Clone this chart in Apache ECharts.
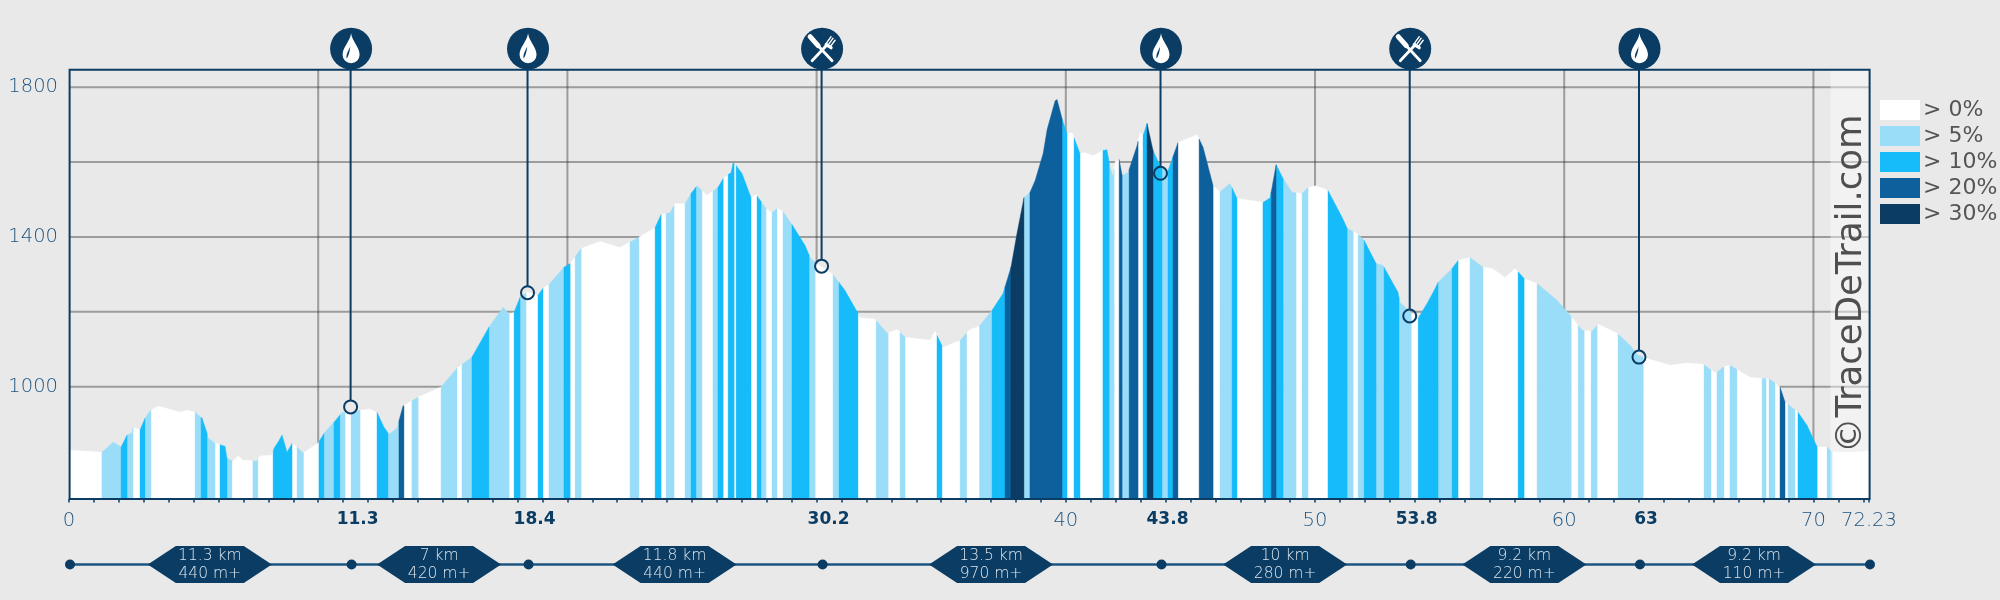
<!DOCTYPE html>
<html><head><meta charset="utf-8">
<style>html,body{margin:0;padding:0;background:#e9e9e9}#c{width:2000px;height:600px}</style>
<script src="https://cdn.jsdelivr.net/npm/echarts@6/dist/echarts.min.js"></script>
</head><body><div id="c"></div>
<script>
const totalKm = 72.23, minElev = 700, maxElev = 1846;
const profileKm = [0,1.28,1.52,1.73,2.05,2.29,2.49,2.53,2.81,3.01,3.21,3.53,4.01,4.41,4.70,5.02,5.30,5.50,5.54,5.82,6.22,6.30,6.54,6.74,6.94,7.50,7.62,8.11,8.19,8.35,8.51,8.71,8.91,9.11,9.35,9.95,10.23,10.63,10.92,11.28,11.64,12.04,12.32,12.60,12.80,13.12,13.36,13.97,14.89,15.53,16.13,16.81,17.38,17.62,17.82,18.06,18.34,18.78,18.98,19.22,19.82,20.07,20.51,21.27,22.07,22.83,23.48,23.72,24.08,24.28,24.68,24.92,25.16,25.56,26.00,26.21,26.41,26.53,26.61,26.73,26.97,27.33,27.53,27.93,28.17,28.37,28.61,28.97,29.50,29.70,29.90,30.62,31.10,31.62,31.66,32.31,32.79,33.19,33.51,34.51,34.71,34.79,35.03,35.72,36.00,36.12,36.48,37.00,37.44,37.76,38.00,38.28,38.52,38.73,39.05,39.21,39.53,39.61,39.81,40.01,40.21,40.53,40.73,41.05,41.45,41.61,41.74,41.86,41.94,42.10,42.22,42.46,42.82,42.94,43.06,43.22,43.46,43.78,44.06,44.42,44.46,45.23,45.47,45.87,46.15,46.55,46.83,47.47,47.87,48.16,48.40,48.68,49.04,49.44,49.68,50.00,50.48,51.05,51.25,51.65,51.93,52.41,52.69,53.29,53.37,53.85,54.10,54.46,54.70,54.90,55.46,55.70,56.18,56.70,57.07,57.59,57.99,58.35,58.87,59.67,60.20,60.68,61.08,61.32,62.08,62.60,62.92,63.40,64.21,64.89,65.53,66.05,66.33,66.61,67.42,68.22,68.62,68.82,68.94,69.34,69.70,70.11,70.51,70.71,71.55,72.23];
const profileElev = [831,825,839,852,839,871,876,892,884,916,935,948,940,932,937,932,916,876,863,849,841,809,801,815,804,801,815,817,836,852,871,825,849,839,823,849,879,908,932,927,937,940,932,892,873,889,948,972,999,1049,1079,1159,1212,1193,1199,1239,1252,1244,1263,1273,1319,1329,1369,1388,1372,1399,1425,1460,1465,1489,1489,1516,1537,1511,1532,1556,1567,1572,1599,1591,1569,1505,1513,1476,1465,1476,1468,1433,1377,1345,1332,1300,1257,1196,1185,1180,1143,1153,1132,1124,1148,1137,1105,1124,1145,1153,1161,1204,1249,1319,1409,1505,1519,1551,1623,1687,1764,1767,1716,1676,1679,1623,1625,1617,1631,1633,1585,1561,1601,1607,1564,1572,1644,1679,1671,1703,1631,1585,1577,1644,1652,1673,1639,1537,1521,1543,1503,1497,1492,1505,1593,1556,1519,1516,1532,1537,1524,1452,1423,1409,1391,1329,1324,1252,1225,1196,1183,1223,1252,1279,1316,1337,1345,1319,1316,1292,1316,1289,1276,1231,1191,1151,1148,1167,1143,1111,1084,1073,1057,1063,1060,1036,1052,1057,1025,1020,999,959,953,932,897,839,839,825,825,828];
const bandEnds = [1.28,2.05,2.29,2.53,2.81,3.01,3.25,5.02,5.26,5.50,5.82,6.02,6.30,6.50,7.34,7.54,8.15,8.91,9.11,9.37,9.99,10.19,10.59,10.83,11.04,11.28,11.64,12.32,12.76,13.20,13.40,13.72,13.97,14.89,15.53,15.73,16.13,16.81,17.62,17.82,18.06,18.30,18.78,18.98,19.22,19.82,20.07,20.27,20.51,22.47,22.83,23.48,23.72,23.92,24.24,24.68,24.92,25.12,25.36,25.80,26.00,26.21,26.41,26.65,26.73,27.33,27.57,27.73,27.93,28.17,28.37,28.61,28.97,29.66,29.90,30.62,30.86,31.62,32.35,32.83,33.31,33.51,34.79,34.99,35.72,35.98,36.50,37.00,37.52,37.76,38.28,38.52,39.81,40.01,40.29,40.53,41.45,41.70,41.90,42.10,42.22,42.50,42.86,43.06,43.22,43.46,43.82,44.06,44.26,44.46,45.31,45.87,46.15,46.63,46.83,47.87,48.20,48.40,48.68,49.20,49.44,49.68,50.48,51.25,51.49,51.69,51.93,52.41,52.73,53.33,53.82,54.10,54.90,55.46,55.70,56.18,56.70,58.11,58.35,58.87,60.24,60.52,60.76,61.04,61.28,62.12,63.13,65.57,65.85,66.09,66.37,66.61,66.89,67.90,68.06,68.18,68.42,68.62,68.82,68.94,69.22,69.34,70.11,70.51,70.71,72.23];
const bandClass = [0,1,2,1,0,2,1,0,1,2,1,0,2,1,0,1,0,2,0,1,0,2,1,2,1,0,1,0,2,1,3,0,1,0,1,0,1,2,1,0,2,1,0,2,0,1,2,0,1,0,1,0,2,0,1,0,1,2,1,0,1,2,0,2,0,2,0,2,1,0,1,0,1,2,1,0,1,2,0,1,0,1,0,2,0,1,0,1,2,3,4,1,3,2,0,2,0,2,1,0,3,1,3,0,2,4,2,1,2,3,0,3,0,1,2,0,2,3,2,1,0,1,0,2,1,0,1,2,1,2,1,0,2,1,2,0,1,0,2,0,1,0,1,0,1,0,1,0,1,0,1,0,1,0,1,0,1,0,3,0,1,0,2,0,1,0];
const classNames = ['> 0%','> 5%','> 10%','> 20%','> 30%'];
const classColors = ['#ffffff','#9addf9','#16bbfa','#0d609c','#0a3c64'];
const gridKm = [10,20,30,40,50,60,70];
const gridElev = [1000,1200,1400,1600,1800];
const elevLabels = [1000,1400,1800];
const distLabels = [0,11.3,18.4,30.2,40,43.8,50,53.8,60,63,70,72.23];
const boldLabels = [11.3,18.4,30.2,43.8,53.8,63];
const stopKm = [11.3,18.4,30.2,43.8,53.8,63];
const stopElev = [946,1251,1322,1570,1189,1079];
const stopKind = ['water','water','food','water','food','water'];
const legKm = [11.3,7,11.8,13.5,10,9.2,9.2];
const stripStops = [0,11.3,18.4,30.2,43.8,53.8,63,72.23];
const legs = ['11.3 km','7 km','11.8 km','13.5 km','10 km','9.2 km','9.2 km'];
const legGain = ['440 m+','420 m+','440 m+','970 m+','280 m+','220 m+','110 m+'];

const NAVY = '#0a3c64', LABEL = '#1f5580', BG = '#e9e9e9';
const KM_SHIFT = 0.04;
const pk = profileKm.map(k => Math.min(totalKm, k === 0 ? 0 : k + KM_SHIFT));
function elevAt(k){
  if (k <= pk[0]) return profileElev[0];
  for (let i = 1; i < pk.length; i++) {
    if (k <= pk[i]) {
      const t = (k - pk[i-1]) / (pk[i] - pk[i-1] || 1);
      return profileElev[i-1] + t * (profileElev[i] - profileElev[i-1]);
    }
  }
  return profileElev[profileElev.length-1];
}
const bandsAll = bandEnds.map((e,i) => ({
  a: i ? bandEnds[i-1] + KM_SHIFT : 0,
  b: i === bandEnds.length-1 ? totalKm : e + KM_SHIFT,
  c: bandClass[i]
}));
function renderBand(params, api){
  const a = api.value(0), b = api.value(1);
  const pts = [api.coord([a, minElev]), api.coord([a, elevAt(a)])];
  pk.forEach((k,i) => { if (k > a && k < b) pts.push(api.coord([k, profileElev[i]])); });
  pts.push(api.coord([b, elevAt(b)]), api.coord([b, minElev]));
  const col = api.visual('color');
  return {type:'polygon', shape:{points:pts}, style:{fill:col, stroke:col, lineWidth:0.4}};
}
const bandSeries = classNames.map((n,ci) => ({
  name:n, type:'custom', xAxisIndex:0, yAxisIndex:0, z:3, clip:false, silent:true,
  itemStyle:{color:classColors[ci]},
  encode:{x:[0,1]},
  renderItem:renderBand,
  data:bandsAll.filter(b=>b.c===ci).map(b=>[b.a,b.b])
}));
const DROP = 'M8.5 0C9.5 8 17 14 17 21.5A8.5 8.5 0 0 1 0 21.5C0 14 7.5 8 8.5 0Z';
const SLIT = 'M7.6 13C6.4 17 3.2 20 4 25.5C6 22.5 7.2 18 7.6 13Z';
function icon(kind, cx, cy){
  if (kind === 0) {
    return [
      {type:'path', shape:{pathData:DROP, x:cx-8.5, y:cy-15.5, width:17, height:30}, style:{fill:'#fff'}},
      {type:'path', shape:{pathData:SLIT, x:cx-4.6, y:cy-2.5, width:3.8, height:12.5}, style:{fill:NAVY}}
    ];
  }
  const ln = (x1,y1,x2,y2,w) => ({type:'line', shape:{x1:cx+x1,y1:cy+y1,x2:cx+x2,y2:cy+y2}, style:{stroke:'#fff',lineWidth:w,lineCap:'round'}});
  return [
    ln(-12,-12,-4,-3,5), ln(-4,-3,10,12,2.8),
    ln(-10,12,5,-4,2.8), ln(4,-4,9,-1,3.2),
    ln(4,-5,9,-12,1.4), ln(6,-3.5,11,-10.5,1.4), ln(8,-2,13,-8.5,1.4)
  ];
}
function renderStop(params, api){
  const k = api.value(0), el = api.value(1), kind = api.value(2);
  const p = api.coord([k, el]), t = api.coord([k, maxElev]);
  const cx = p[0], cy = t[1] - 21.3;
  const children = [
    {type:'line', shape:{x1:cx,y1:t[1],x2:cx,y2:p[1]-6.5}, style:{stroke:NAVY,lineWidth:2}},
    {type:'circle', shape:{cx:cx,cy:p[1],r:6.5}, style:{fill:'rgba(0,0,0,0)',stroke:NAVY,lineWidth:2}},
    {type:'circle', shape:{cx:cx+0.5,cy:cy,r:21}, style:{fill:NAVY}}
  ].concat(icon(kind, cx+0.5, cy));
  return {type:'group', children};
}
function renderGrid(params, api){
  const kind = api.value(0), v = api.value(1);
  const a = kind === 0 ? api.coord([v,minElev]) : api.coord([0,v]);
  const b = kind === 0 ? api.coord([v,maxElev]) : api.coord([totalKm,v]);
  return {type:'line', shape:{x1:a[0],y1:a[1],x2:b[0],y2:b[1]}, style:{stroke:'rgba(50,50,50,0.42)',lineWidth:2}};
}
function renderLeg(params, api){
  const i = api.value(0);
  const c = api.coord([(stripStops[i]+stripStops[i+1])/2, 0.5]);
  const cx = c[0] - 1, hw = 62, ch = 28, hh = 18.5;
  return {type:'group', children:[
    {type:'polygon', shape:{points:[[cx-hw,c[1]],[cx-hw+ch,c[1]-hh],[cx+hw-ch,c[1]-hh],[cx+hw,c[1]],[cx+hw-ch,c[1]+hh],[cx-hw+ch,c[1]+hh]]}, style:{fill:NAVY}},
    {type:'text', x:cx, y:c[1]-8.5, style:{text:legs[i], fill:'#dbe5ec', font:"200 15.5px 'DejaVu Sans'", textAlign:'center', textVerticalAlign:'middle'}},
    {type:'text', x:cx, y:c[1]+9, style:{text:legGain[i], fill:'#dbe5ec', font:"200 15.5px 'DejaVu Sans'", textAlign:'center', textVerticalAlign:'middle'}}
  ]};
}
const option = {
  backgroundColor: BG,
  animation:false,
  legend:{
    orient:'vertical', left:1880, top:99, itemWidth:40, itemHeight:20, itemGap:4, icon:'rect',
    selectedMode:false, padding:0, data:classNames,
    textStyle:{color:'#555', fontSize:22, fontFamily:'DejaVu Sans', padding:[0,0,0,-2]}
  },
  grid:[
    {left:69, top:70, width:1800, height:429},
    {left:70, top:546, width:1800, height:37}
  ],
  xAxis:[
    {type:'value', gridIndex:0, min:0, max:totalKm, interval:1,
      axisLine:{show:false}, splitLine:{show:false},
      axisTick:{show:true, length:3.5, lineStyle:{color:NAVY,width:1.5}},
      axisLabel:{show:true, customValues:distLabels, margin:12, color:LABEL, fontSize:19.5, fontFamily:'DejaVu Sans', fontWeight:200,
        formatter:v => boldLabels.includes(v) ? '{b|'+v+'}' : String(v),
        rich:{b:{fontSize:17, fontWeight:'bold', color:NAVY, fontFamily:'DejaVu Sans', padding:[0,0,0,14]}}
      }},
    {type:'value', gridIndex:1, min:0, max:totalKm, show:false}
  ],
  yAxis:[
    {type:'value', gridIndex:0, min:minElev, max:maxElev,
      axisLine:{show:false}, axisTick:{show:false}, splitLine:{show:false},
      axisLabel:{show:true, customValues:elevLabels, margin:11, color:LABEL, fontSize:19.5, fontFamily:'DejaVu Sans', fontWeight:200, formatter:v=>String(v)}},
    {type:'value', gridIndex:1, min:0, max:1, show:false}
  ],
  graphic:{elements:[
    {type:'rect', z:5, silent:true, shape:{x:1830.5,y:70,width:39,height:429}, style:{fill:'rgba(255,255,255,0.42)'}},
    {type:'text', z:6, silent:true, rotation:Math.PI/2, x:1870, y:453, style:{text:'©TraceDeTrail.com', font:"35.5px 'DejaVu Sans'", fill:'rgba(70,70,70,0.95)', textAlign:'left', textVerticalAlign:'bottom'}},
    {type:'rect', z:7, silent:true, shape:{x:69.6,y:69.7,width:1800,height:429.3}, style:{fill:'none',stroke:NAVY,lineWidth:2}}
  ]},
  series:[
    {type:'custom', name:'grid', xAxisIndex:0, yAxisIndex:0, z:2, clip:false, silent:true, encode:{x:1}, renderItem:renderGrid,
      data:gridKm.map(v=>[0,v]).concat(gridElev.map(v=>[1,v]))},
    ...bandSeries,
    {type:'custom', name:'stops', xAxisIndex:0, yAxisIndex:0, z:10, clip:false, silent:true, encode:{x:0,y:1}, renderItem:renderStop,
      data:stopKm.map((k,i)=>[k,stopElev[i],stopKind[i]==='water'?0:1])},
    {type:'line', name:'strip', xAxisIndex:1, yAxisIndex:1, z:3, silent:true, symbol:'circle', symbolSize:10,
      lineStyle:{color:'#1c5580',width:2.5}, itemStyle:{color:NAVY},
      data:stripStops.map(k=>[k,0.5])},
    {type:'custom', name:'legs', xAxisIndex:1, yAxisIndex:1, z:4, clip:false, silent:true, encode:{x:1}, renderItem:renderLeg,
      data:legKm.map((k,i)=>[i,k])}
  ]
};
const chart = echarts.init(document.getElementById('c'), null, {renderer:'canvas', width:2000, height:600});
chart.setOption(option);
</script></body></html>
